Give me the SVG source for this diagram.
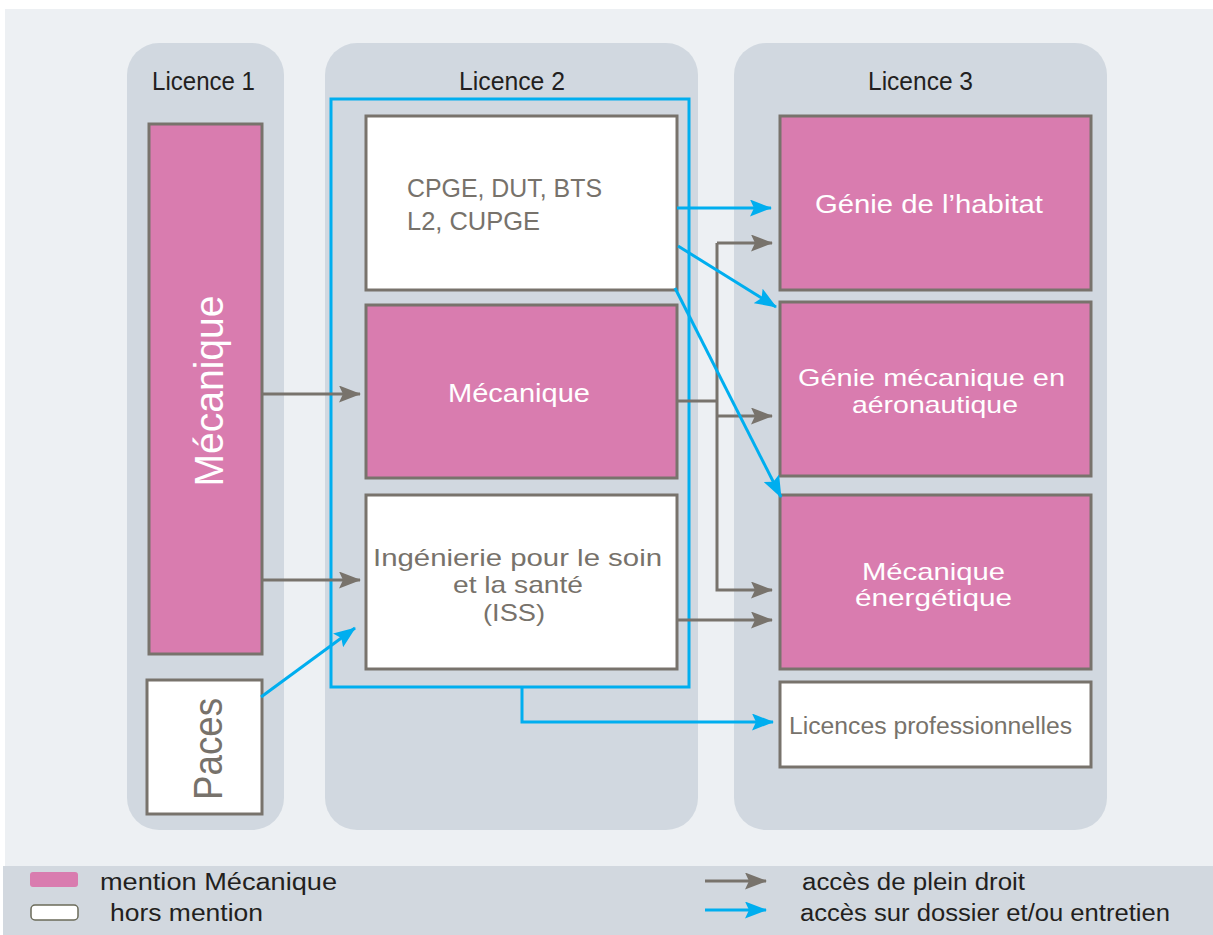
<svg xmlns="http://www.w3.org/2000/svg" width="1213" height="935" viewBox="0 0 1213 935">
<style>
.panel{fill:#d1d8e0}
.pink{fill:#d97caf;stroke:#78736c;stroke-width:3}
.white{fill:#ffffff;stroke:#78736c;stroke-width:3}
.title{font-family:"Liberation Sans",Arial,sans-serif;font-size:25px;fill:#231f20;text-anchor:middle}
.wt{font-family:"Liberation Sans",Arial,sans-serif;font-size:24px;fill:#ffffff;text-anchor:middle}
.gt{font-family:"Liberation Sans",Arial,sans-serif;font-size:24px;fill:#77726b;text-anchor:middle}
.lg{font-family:"Liberation Sans",Arial,sans-serif;font-size:23px;fill:#231f20}
.ga{fill:none;stroke:#78736c;stroke-width:3}
.ba{fill:none;stroke:#00aeef;stroke-width:3}
</style>
<defs>
<marker id="mg" viewBox="0 0 22 17" refX="21" refY="8.5" markerWidth="22" markerHeight="17" markerUnits="userSpaceOnUse" orient="auto"><path d="M0,0 L22,8.5 L0,17 L4,8.5 z" fill="#78736c"/></marker>
<marker id="mb" viewBox="0 0 22 17" refX="21" refY="8.5" markerWidth="22" markerHeight="17" markerUnits="userSpaceOnUse" orient="auto"><path d="M0,0 L22,8.5 L0,17 L4,8.5 z" fill="#00aeef"/></marker>
</defs>
<rect x="0" y="0" width="1213" height="935" fill="#ffffff"/>
<rect x="5" y="9" width="1208" height="857" fill="#edf0f3"/>
<rect x="3" y="866" width="1210" height="69" fill="#d2d8df"/>

<g id="licence1">
<rect class="panel" x="127" y="43" width="157" height="787" rx="32"/>
<text class="title" x="203.5" y="90" textLength="103" lengthAdjust="spacingAndGlyphs">Licence 1</text>
</g>
<g id="licence2">
<rect class="panel" x="325" y="43" width="373" height="787" rx="32"/>
<text class="title" x="512" y="90" textLength="106" lengthAdjust="spacingAndGlyphs">Licence 2</text>
</g>
<g id="licence3">
<rect class="panel" x="734" y="43" width="373" height="787" rx="32"/>
<text class="title" x="920.5" y="90" textLength="105" lengthAdjust="spacingAndGlyphs">Licence 3</text>
</g>

<g id="frame"><rect x="331" y="99" width="358" height="588" fill="none" stroke="#00aeef" stroke-width="3"/></g>

<g id="l1-mecanique">
<rect class="pink" x="149" y="124" width="113" height="530"/>
<text class="wt" style="font-size:40px" transform="translate(223,391) rotate(-90)" textLength="191" lengthAdjust="spacingAndGlyphs">Mécanique</text>
</g>
<g id="paces">
<rect class="white" x="147" y="680" width="115" height="134"/>
<text class="gt" style="font-size:40px" transform="translate(222,749) rotate(-90)" textLength="102" lengthAdjust="spacingAndGlyphs">Paces</text>
</g>
<g id="cpge">
<rect class="white" x="366" y="116" width="311" height="174"/>
<text class="gt" style="text-anchor:start;font-size:25px" x="407" y="197" textLength="195" lengthAdjust="spacingAndGlyphs">CPGE, DUT, BTS</text>
<text class="gt" style="text-anchor:start;font-size:25px" x="407" y="230" textLength="133" lengthAdjust="spacingAndGlyphs">L2, CUPGE</text>
</g>
<g id="l2-mecanique">
<rect class="pink" x="366" y="305" width="311" height="173"/>
<text class="wt" style="font-size:26px" x="519" y="402" textLength="142" lengthAdjust="spacingAndGlyphs">Mécanique</text>
</g>
<g id="iss">
<rect class="white" x="366" y="495" width="311" height="174"/>
<text class="gt" x="517.5" y="566" textLength="289" lengthAdjust="spacingAndGlyphs">Ingénierie pour le soin</text>
<text class="gt" x="518" y="593" textLength="130" lengthAdjust="spacingAndGlyphs">et la santé</text>
<text class="gt" x="514" y="621" textLength="62" lengthAdjust="spacingAndGlyphs">(ISS)</text>
</g>
<g id="genie-habitat">
<rect class="pink" x="780" y="116" width="311" height="174"/>
<text class="wt" style="font-size:25px" x="929" y="213" textLength="228" lengthAdjust="spacingAndGlyphs">Génie de l’habitat</text>
</g>
<g id="genie-aero">
<rect class="pink" x="780" y="302" width="311" height="174"/>
<text class="wt" x="931.5" y="386" textLength="267" lengthAdjust="spacingAndGlyphs">Génie mécanique en</text>
<text class="wt" x="935" y="413" textLength="166" lengthAdjust="spacingAndGlyphs">aéronautique</text>
</g>
<g id="mecanique-energetique">
<rect class="pink" x="780" y="495" width="311" height="174"/>
<text class="wt" x="933.5" y="580" textLength="143" lengthAdjust="spacingAndGlyphs">Mécanique</text>
<text class="wt" x="933.5" y="606" textLength="157" lengthAdjust="spacingAndGlyphs">énergétique</text>
</g>
<g id="licences-pro">
<rect class="white" x="780" y="682" width="311" height="85"/>
<text class="gt" style="font-size:23px" x="930.5" y="734" textLength="283" lengthAdjust="spacingAndGlyphs">Licences professionnelles</text>
</g>

<g id="connectors">
<line class="ga" x1="262" y1="394" x2="360" y2="394" marker-end="url(#mg)"/>
<line class="ga" x1="262" y1="580" x2="360" y2="580" marker-end="url(#mg)"/>
<polyline class="ga" points="677,401 717,401"/>
<polyline class="ga" points="717,243 717,590 772,590" marker-end="url(#mg)"/>
<line class="ga" x1="717" y1="243" x2="772" y2="243" marker-end="url(#mg)"/>
<line class="ga" x1="717" y1="416" x2="772" y2="416" marker-end="url(#mg)"/>
<line class="ga" x1="677" y1="620" x2="772" y2="620" marker-end="url(#mg)"/>
<line class="ba" x1="677" y1="208" x2="771" y2="208" marker-end="url(#mb)"/>
<line class="ba" x1="678" y1="246" x2="776" y2="307" marker-end="url(#mb)"/>
<line class="ba" x1="675" y1="288" x2="781" y2="497" marker-end="url(#mb)"/>
<line class="ba" x1="261" y1="697" x2="355" y2="628" marker-end="url(#mb)"/>
<polyline class="ba" points="522,687 522,722 773,722" marker-end="url(#mb)"/>
</g>

<g id="legend">
<rect x="30" y="872" width="48" height="15" rx="3" fill="#d97caf"/>
<text class="lg" x="100" y="890" textLength="237" lengthAdjust="spacingAndGlyphs">mention  Mécanique</text>
<rect x="31" y="905" width="47" height="15" rx="4" fill="#ffffff" stroke="#6b6b5a" stroke-width="1.5"/>
<text class="lg" x="110" y="921" textLength="153" lengthAdjust="spacingAndGlyphs">hors mention</text>
<line class="ga" x1="705" y1="881" x2="766" y2="881" marker-end="url(#mg)"/>
<text class="lg" x="802" y="890" textLength="223" lengthAdjust="spacingAndGlyphs">accès de plein droit</text>
<line class="ba" x1="705" y1="910" x2="766" y2="910" marker-end="url(#mb)"/>
<text class="lg" x="800" y="921" textLength="370" lengthAdjust="spacingAndGlyphs">accès sur dossier et/ou entretien</text>
</g>
</svg>
